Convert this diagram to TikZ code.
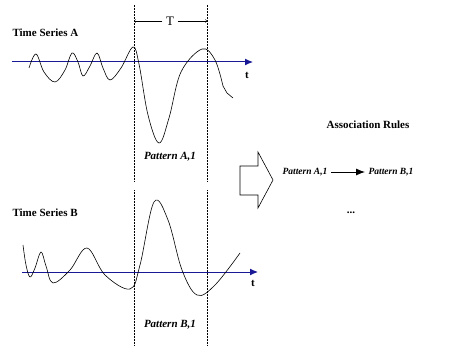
\documentclass[tikz,border=0pt]{standalone}
\usepackage{fontspec}
\setmainfont{Liberation Serif}
\usetikzlibrary{arrows.meta}
\definecolor{axisblue}{RGB}{25,25,150}
\begin{document}
\begin{tikzpicture}[x=1pt, y=-1pt, >=latex,
  title/.style={font=\fontsize{11}{13}\selectfont\bfseries},
  patlabel/.style={font=\fontsize{11}{13}\selectfont\bfseries\itshape},
  rulelabel/.style={font=\fontsize{9.5}{11}\selectfont\bfseries\itshape},
  axis/.style={-{Latex[length=8pt,width=7pt]}, axisblue, line width=1pt},
  window/.style={densely dotted, line width=0.5pt},
  series/.style={line width=0.6pt}]
  \useasboundingbox (0,0) rectangle (452,350);
  % time window of length T
  \coordinate (wla) at (134,5);   \coordinate (wlb) at (134,181);
  \coordinate (wlc) at (134,190); \coordinate (wld) at (134,346);
  \coordinate (wra) at (207,5);   \coordinate (wrb) at (207,181);
  \coordinate (wrc) at (207,190); \coordinate (wrd) at (207,346);
  \draw[window] (wla) -- (wlb);
  \draw[window] (wlc) -- (wld);
  \draw[window] (wra) -- (wrb);
  \draw[window] (wrc) -- (wrd);
  \node[font=\fontsize{13}{15}\selectfont] (tlen) at (170,21) {T};
  \coordinate (tl) at (134,21);
  \coordinate (tr) at (207,21);
  \draw[-to] (tlen.west) -- (tl);
  \draw[-to] (tlen.east) -- (tr);
  % time series A
  \node[title, anchor=west] (tsa) at (9,33) {Time Series A};
  \coordinate (axa0) at (12,62);
  \coordinate (axa1) at (253,62);
  \draw[axis] (axa0) -- (axa1);
  \node[title] (ta) at (247,75) {t};
  \draw[series] plot[smooth, tension=0.6] coordinates {(29,68) (36,54) (44,72) (55,82) (65,70)
    (72,53) (78,62) (83,76) (90,66) (97,53) (103,68) (110,80) (121,68) (133,47) (139,64)
    (148,115) (159,143) (169,118) (181,72) (202,49) (215,60) (223,86)};
  \draw[series] (223,86) -- (227,93) -- (233,98);
  \node[patlabel] (pa) at (170,157) {Pattern A,1};
  % time series B
  \node[title, anchor=west] (tsb) at (9,213) {Time Series B};
  \coordinate (axb0) at (22,272);
  \coordinate (axb1) at (258,272);
  \draw[axis] (axb0) -- (axb1);
  \node[title] (tb) at (253,283) {t};
  \draw[series] plot[smooth, tension=0.6] coordinates {(23,245) (26,265) (30,277) (35,268)
    (41,252) (46,266) (53,283) (70,270) (87,248) (105,275) (130,289) (140,265) (154,202)
    (168,220) (182,270) (197,295) (215,285) (240,253)};
  \node[patlabel] (pb) at (170,325) {Pattern B,1};
  % transformation arrow
  \draw[line width=0.6pt] (240,166) -- (258,166) -- (258,152) -- (273,180) -- (258,208)
    -- (258,195) -- (240,195) -- cycle;
  % association rules
  \node[title] (rules) at (368,125) {Association Rules};
  \node[rulelabel] (ra) at (305,172) {Pattern A,1};
  \node[rulelabel] (rb) at (391,172) {Pattern B,1};
  \draw[-{Latex[length=9pt,width=7pt]}, line width=0.9pt] (ra.east) -- (rb.west);
  \node[title] (more) at (351,213) {...};
\end{tikzpicture}
\end{document}
